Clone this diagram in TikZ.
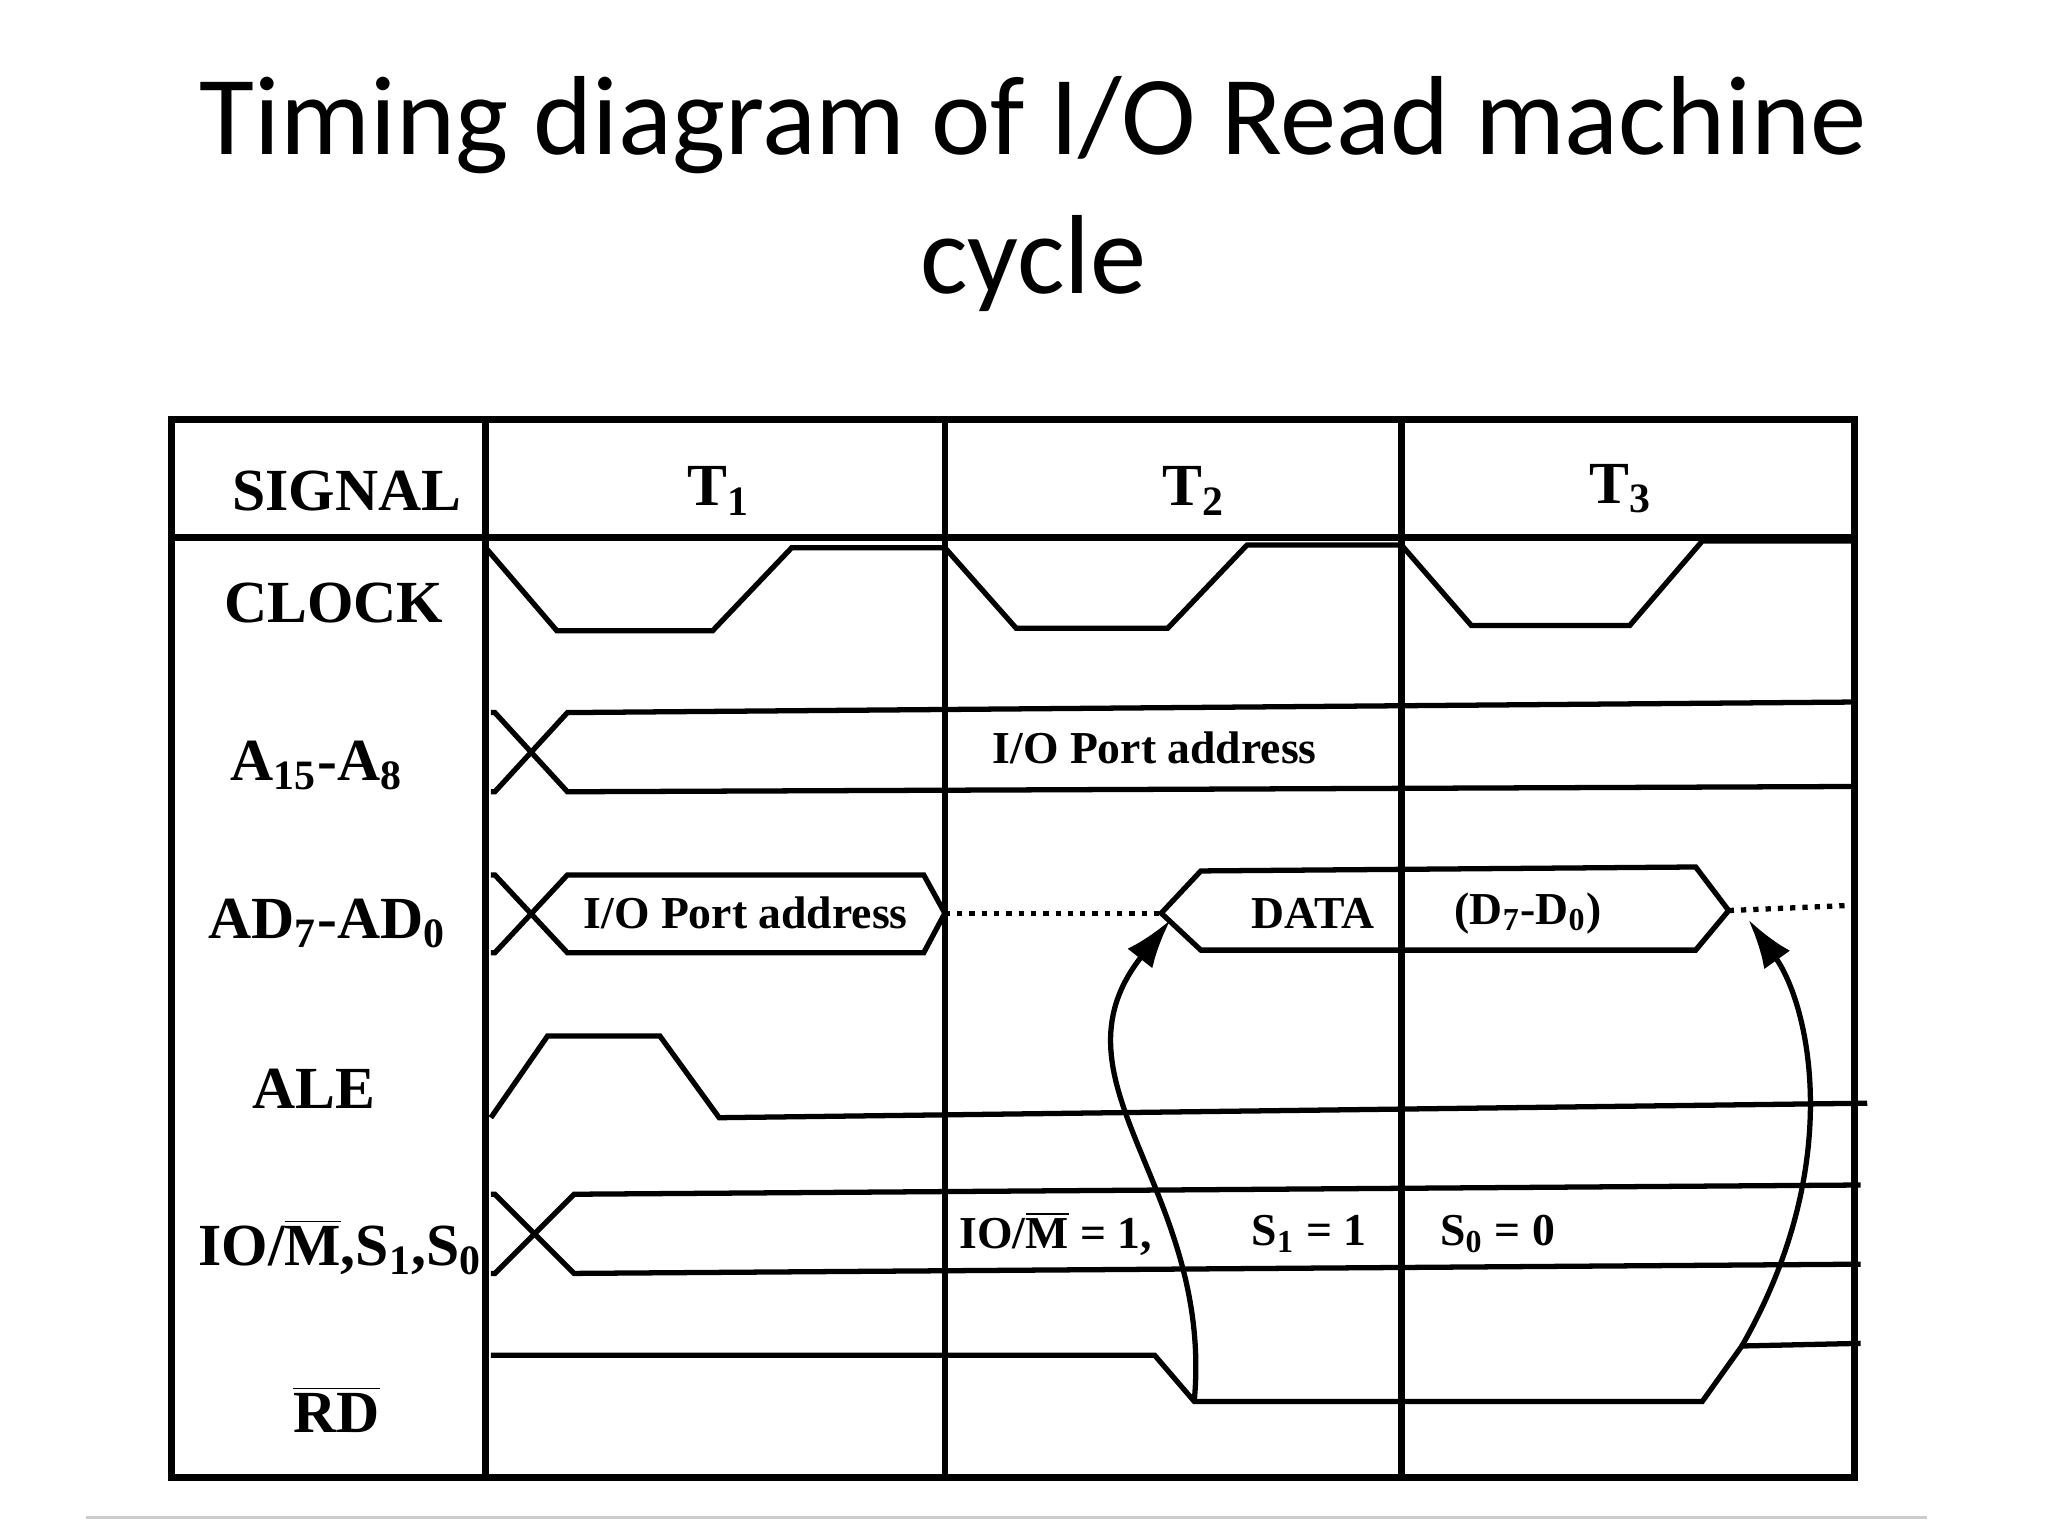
\documentclass[tikz,border=0pt]{standalone}
\usepackage{fontspec}
\setmainfont{Liberation Serif}
\newfontfamily\titlefont{Carlito}
\usetikzlibrary{arrows.meta}
\newcommand{\mysb}[1]{\textsubscript{#1}}
\newcommand{\ovl}[1]{$\overline{\hbox{\bfseries #1}}$}
\begin{document}
\begin{tikzpicture}[x=0.013196cm,y=-0.013196cm,line width=1.6pt,
  lbl/.style={font=\fontsize{17}{20}\selectfont\bfseries},
  inl/.style={font=\fontsize{13}{15}\selectfont\bfseries},
  sig/.style={line width=1.5pt}]
\useasboundingbox (0,0) rectangle (1552,1164);
\node[font=\titlefont\fontsize{32}{38}\selectfont] (t1) at (783,95) {Timing diagram of I/O Read machine};
\node[font=\titlefont\fontsize{32}{38}\selectfont] (t2) at (783,200) {cycle};
\draw[line width=2pt] (130,318) rectangle (1405,1120);
\draw[line width=2pt] (130,407) -- (1405,407);
\foreach \x in {368,716,1062} \draw[line width=1.8pt] (\x,318) -- (\x,1120);
\node[lbl] (hs) at (263,372) {SIGNAL};
\node[lbl] (h1) at (545,372) {T\mysb{1}};
\node[lbl] (h2) at (905,372) {T\mysb{2}};
\node[lbl] (h3) at (1228,370) {T\mysb{3}};
\node[lbl] (lc) at (253,457) {CLOCK};
\node[lbl] (la) at (240,580) {A\mysb{15}-A\mysb{8}};
\node[lbl] (lad) at (248,700) {AD\mysb{7}-AD\mysb{0}};
\node[lbl] (le) at (238,825) {ALE};
\node[lbl] (lio) at (258,945) {IO/\ovl{M},S\mysb{1},S\mysb{0}};
\node[lbl] (lrd) at (255,1068) {\ovl{RD}};
% clock
\draw[sig] (368,415) -- (422,478) -- (540,478) -- (600,415) -- (716,415) -- (770,476) -- (885,476) -- (945,413) -- (1062,413) -- (1115,474) -- (1235,474) -- (1290,410) -- (1405,410);
% A15-A8
\draw[sig] (372,540) -- (375,540) -- (430,600) -- (1405,596);
\draw[sig] (372,600) -- (375,600) -- (430,540) -- (1405,532);
\node[inl] (pa1) at (875,567) {I/O Port address};
% AD
\draw[sig] (372,663) -- (375,663) -- (430,722) -- (700,722) -- (716,692) -- (700,663) -- (430,663) -- (375,722) -- (372,722);
\draw[sig,dotted] (716,692) -- (880,692);
\draw[sig] (880,692) -- (910,660) -- (1285,657) -- (1310,690) -- (1285,720) -- (910,720) -- cycle;
\draw[sig,dotted] (1310,690) -- (1405,686);
\node[inl] (pa2) at (565,692) {I/O Port address};
\node[inl] (dt) at (995,692) {DATA};
\node[inl] (dd) at (1158,692) {(D\mysb{7}-D\mysb{0})};
% ALE
\draw[sig] (372,847) -- (415,785) -- (500,785) -- (545,847) -- (1415,836);
% IO/M
\draw[sig] (372,905) -- (375,905) -- (435,965) -- (1410,958);
\draw[sig] (372,965) -- (375,965) -- (435,905) -- (1410,898);
\node[inl] (io) at (800,935) {IO/\ovl{M} = 1,};
\node[inl] (s1) at (992,935) {S\mysb{1} = 1};
\node[inl] (s0) at (1135,935) {S\mysb{0} = 0};
% RD
\draw[sig] (372,1027) -- (875,1027) -- (905,1062) coordinate (rdf) -- (1290,1062) -- (1320,1020) coordinate (rdr) -- (1410,1018);
\coordinate (a1) at (887,697);
\coordinate (a2) at (1325,697);
\draw[sig,-{Latex[length=14pt,width=9pt]}] (rdf) .. controls (920,900) and (790,820) .. (a1);
\draw[sig,-{Latex[length=14pt,width=9pt]}] (rdr) .. controls (1400,880) and (1370,760) .. (a2);
\draw[gray!40,line width=1pt] (65,1150) -- (1460,1150);
\end{tikzpicture}
\end{document}
